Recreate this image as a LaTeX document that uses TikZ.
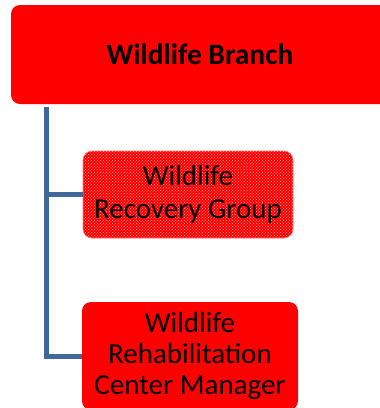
\documentclass[tikz,border=0pt]{standalone}
\usepackage{fontspec}
\setmainfont{Carlito}
\usetikzlibrary{patterns}
\definecolor{linkblue}{RGB}{65,104,155}
\begin{document}
\begin{tikzpicture}[x=1pt,y=-1pt,
  box/.style={fill=red, rounded corners=9pt, inner sep=0pt, align=center, text=black},
  txt/.style={font=\fontsize{29}{33}\selectfont},
  link/.style={draw=linkblue, line width=5pt}]
\useasboundingbox (0,0) rectangle (380,408);
\node[box, minimum width=378pt, minimum height=99pt, font=\bfseries\fontsize{29.5}{33}\selectfont] (branch) at (200,54.5) {Wildlife Branch};
\node[box, minimum width=210pt, minimum height=87pt, txt, postaction={pattern=crosshatch dots, pattern color=red!35!white}, draw=red!55!white, line width=0.6pt] (recovery) at (188,194.5) {Wildlife\\Recovery Group};
\node[box, minimum width=216pt, minimum height=108pt, font=\fontsize{29}{31}\selectfont] (rehab) at (190,356) {Wildlife\\Rehabilitation\\Center Manager};
\coordinate (top) at (46,107);
\draw[link] (top) |- (recovery.west);
\draw[link] (top) |- (rehab.west);
\end{tikzpicture}
\end{document}
